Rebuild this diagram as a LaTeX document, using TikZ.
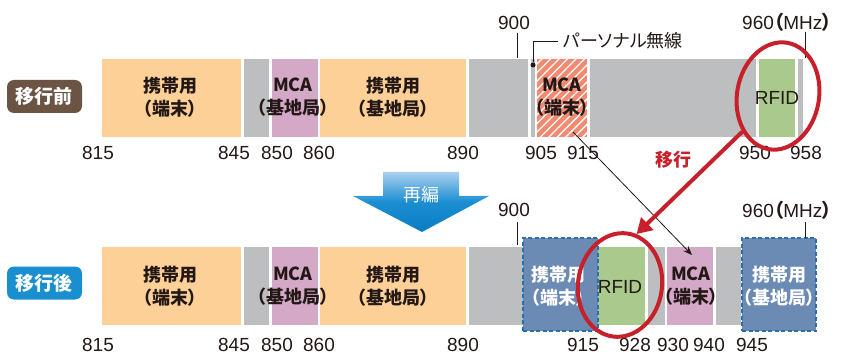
\documentclass[tikz,border=0pt]{standalone}
\usepackage{fontspec}
\setmainfont{Noto Sans CJK JP}[RawFeature=+palt]
\newfontfamily\lib{Liberation Sans}
\usetikzlibrary{patterns.meta,shapes.geometric,arrows.meta,fit,calc}
\definecolor{cOr}{HTML}{FDD098}
\definecolor{cGr}{HTML}{BCBEC0}
\definecolor{cPk}{HTML}{D4A9C8}
\definecolor{cGn}{HTML}{A9CA8C}
\definecolor{cSa}{HTML}{F28A72}
\definecolor{cBl}{HTML}{6B8AB4}
\definecolor{cBd}{HTML}{2C6FAE}
\definecolor{cRd}{HTML}{C8202B}
\definecolor{cBr}{HTML}{6B5444}
\definecolor{cLb}{HTML}{1A8FD0}
\definecolor{cTx}{HTML}{231815}
\definecolor{cA1}{HTML}{A9D0EF}
\definecolor{cA2}{HTML}{1B8ED2}
\definecolor{cA3}{HTML}{0B7CC2}
\tikzset{
  band/.style={inner sep=0pt, draw=none, fill=#1},
  bluebox/.style={inner sep=0pt, fill=cBl, draw=cBd, line width=1.6pt, dash pattern=on 4pt off 2.5pt},
  txt/.style={inner sep=0pt, align=center, text=cTx, font=\fontsize{18}{23}\selectfont\bfseries},
  wtxt/.style={txt, text=white},
  num/.style={inner sep=0pt, text=cTx, font=\fontsize{19}{20}\selectfont\lib},
  tag/.style={rounded corners=7pt, minimum width=75pt, minimum height=33pt, inner sep=0pt, text=white, font=\fontsize{19}{20}\selectfont\bfseries},
  redring/.style={ellipse, draw=cRd, line width=4pt, inner sep=0pt},
  tick/.style={draw=cTx, line width=0.9pt}
}
\begin{document}
\begin{tikzpicture}[x=1pt,y=-1pt]
\useasboundingbox (0,0) rectangle (845,355);
% ---------- top bar ----------
\node[band=cOr, fit={(102,59) (241,137)}] (t1) {};
\node[band=cGr, fit={(244,59) (269,137)}] (t2) {};
\node[band=cPk, fit={(272,59) (318,137)}] (t3) {};
\node[band=cOr, fit={(320,59) (466,137)}] (t4) {};
\node[band=cGr, fit={(469,59) (528,137)}] (t5) {};
\node[band=cGr, fit={(531,59) (535,137)}] (t6) {};
\node[band=cSa, fit={(537,59) (587,137)}] (t7) {};
\path[pattern={Lines[angle=45,distance=6pt,line width=1.3pt]}, pattern color=white] (t7.south west) rectangle (t7.north east);
\node[band=cGr, fit={(590,59) (756,137)}] (t8) {};
\node[band=cGn, fit={(759,59) (795,137)}] (t9) {};
\node[band=cGr, fit={(798,59) (803,137)}] (t10) {};
% texts
\node[txt] (lt1) at (170,97) {携帯用\\（端末）};
\node[txt] (lt3) at (293,97) {MCA\\（基地局）};
\node[txt] (lt4) at (393,97) {携帯用\\（基地局）};
\node[txt] (lt7) at (562,97) {MCA\\（端末）};
\node[txt, font=\fontsize{19}{20}\selectfont\lib] (lt9) at (777,98) {RFID};
% numbers
\node[num] (n1) at (98,153) {815};
\node[num] (n2) at (234,153) {845};
\node[num] (n3) at (277,153) {850};
\node[num] (n4) at (319,153) {860};
\node[num] (n5) at (463,153) {890};
\node[num] (n6) at (541,153) {905};
\node[num] (n7) at (583,153) {915};
\node[num] (n8) at (755,153) {950};
\node[num] (n9) at (806,153) {958};
\node[num] (n10) at (514,23) {900};
\node[num, anchor=west] (n11) at (742,22) {960{\rmfamily\bfseries（}MHz{\rmfamily\bfseries）}};
\coordinate (k1a) at (517,33); \coordinate (k1b) at (517,58);
\draw[tick] (k1a) -- (k1b);
\coordinate (k2a) at (805,32); \coordinate (k2b) at (805,58);
\draw[tick] (k2a) -- (k2b);
% personal radio
\node[circle, fill=cTx, inner sep=0pt, minimum size=5pt] (pdot) at (533,65) {};
\node[txt, anchor=west, font=\fontsize{18}{20}\selectfont] (plab) at (563,41) {パーソナル無線};
\coordinate (pcorner) at (533,41);
\coordinate (pend) at (558,41);
\draw[tick] (pdot) -- (pcorner) -- (pend);
% tags
\node[tag, fill=cBr] (tagA) at (44.5,96.5) {移行前};
\node[tag, fill=cLb] (tagB) at (44.5,283) {移行後};
% ---------- bottom bar ----------
\node[band=cOr, fit={(102,247) (241,325)}] (b1) {};
\node[band=cGr, fit={(244,247) (269,325)}] (b2) {};
\node[band=cPk, fit={(272,247) (318,325)}] (b3) {};
\node[band=cOr, fit={(320,247) (466,325)}] (b4) {};
\node[band=cGr, fit={(469,247) (523,325)}] (b5) {};
\node[band=cGn, fit={(598,247) (645,325)}] (b7) {};
\node[bluebox, fit={(523,238) (598,331)}] (b6) {};
\node[band=cGr, fit={(648,247) (665,325)}] (b8) {};
\node[band=cPk, fit={(667,247) (713,325)}] (b9) {};
\node[band=cGr, fit={(716,247) (741,325)}] (b10) {};
\node[bluebox, fit={(742,238) (816,331)}] (b11) {};
\node[txt] (lb1) at (170,286) {携帯用\\（端末）};
\node[txt] (lb3) at (293,286) {MCA\\（基地局）};
\node[txt] (lb4) at (393,286) {携帯用\\（基地局）};
\node[wtxt] (lb6) at (558,286) {携帯用\\（端末）};
\node[txt, font=\fontsize{19}{20}\selectfont\lib] (lb7) at (620,287) {RFID};
\node[txt] (lb9) at (691,286) {MCA\\（端末）};
\node[wtxt] (lb11) at (779,286) {携帯用\\（基地局）};
\node[num] (m1) at (98,345) {815};
\node[num] (m2) at (234,345) {845};
\node[num] (m3) at (277,345) {850};
\node[num] (m4) at (319,345) {860};
\node[num] (m5) at (463,345) {890};
\node[num] (m6) at (583,345) {915};
\node[num] (m7) at (635,345) {928};
\node[num] (m8) at (673,345) {930};
\node[num] (m9) at (709,345) {940};
\node[num] (m10) at (752,345) {945};
\node[num] (m11) at (514,210) {900};
\node[num, anchor=west] (m12) at (742,210) {960{\rmfamily\bfseries（}MHz{\rmfamily\bfseries）}};
\coordinate (k3a) at (517,222); \coordinate (k3b) at (517,245);
\draw[tick] (k3a) -- (k3b);
\coordinate (k4a) at (805,222); \coordinate (k4b) at (805,238);
\draw[tick] (k4a) -- (k4b);
% ---------- reorganisation arrow ----------
\shade[top color=cA1, bottom color=cA3, middle color=cA2, shading angle=0]
  (383,172) -- (459,172) -- (459,196) -- (489,196) -- (422,232) -- (353,196) -- (383,196) -- cycle;
\node[wtxt, font=\fontsize{18}{20}\selectfont] (reorg) at (421,195) {再編};
% ---------- black arrow ----------
\coordinate (bs) at (573,132);
\coordinate (be) at (692,255);
\draw[draw=cTx, line width=0.8pt, -{Stealth[length=9pt,width=7pt]}] (bs) -- (be);
% ---------- red rings and arrow ----------
\node[redring, minimum width=82pt, minimum height=108pt, rotate=-10] (e1) at (778,96) {};
\node[redring, minimum width=84pt, minimum height=104pt, rotate=-8] (e2) at (620,285) {};
\draw[cRd, line width=4pt, -{Triangle[length=15pt,width=17pt]}] (e1.235) -- (e2.80);
\node[txt, text=cRd, font=\fontsize{18}{20}\selectfont\bfseries] (mv) at (673,160) {移行};
\end{tikzpicture}
\end{document}
